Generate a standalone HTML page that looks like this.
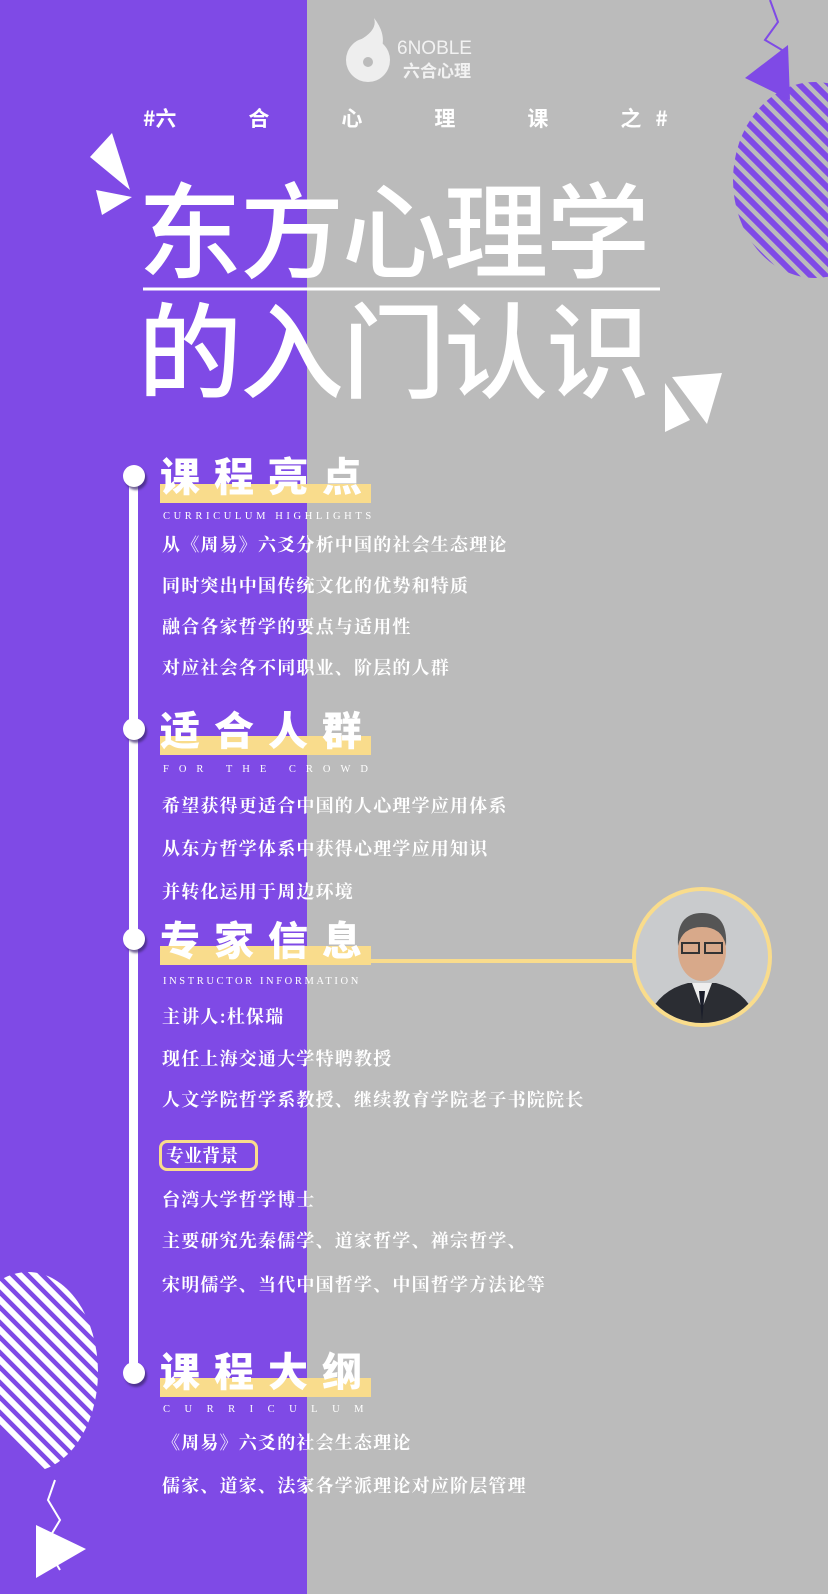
<!DOCTYPE html>
<html><head><meta charset="utf-8"><style>
*{margin:0;padding:0;box-sizing:border-box}
body{width:828px;height:1594px;position:relative;overflow:hidden;background:#bbbbbb;font-family:"Liberation Serif","Noto Serif CJK SC",serif}
.p{position:absolute}
.purple{left:0;top:0;width:307px;height:1594px;background:#7f4ae6}
.t{color:#fff;white-space:nowrap}
.item{position:absolute;left:162px;color:#fff;font-size:18px;font-weight:bold;font-family:"Noto Serif CJK SC",serif;white-space:nowrap;letter-spacing:1.2px}
.hd{position:absolute;left:160px;color:#fff;font-size:40px;font-weight:900;font-family:"Noto Sans CJK SC",sans-serif;letter-spacing:14px;line-height:44px;white-space:nowrap;z-index:2}
.bar{position:absolute;left:160px;width:211px;height:19px;background:#f9dc8c;z-index:1}
.en{position:absolute;left:163px;color:#fff;font-size:10.5px;font-family:"Liberation Serif",serif;white-space:nowrap}
.dot{position:absolute;left:123px;width:22px;height:22px;border-radius:50%;background:#fff;box-shadow:2px 3px 2px rgba(60,40,110,.7);z-index:3}
</style></head><body>
<div class="p purple"></div>
<svg class="p" style="left:0;top:0" width="828" height="1594">
<defs>
<clipPath id="c1"><ellipse cx="815" cy="180" rx="82" ry="98"/></clipPath>
<clipPath id="c2"><ellipse cx="28" cy="1372" rx="70" ry="100"/></clipPath>
</defs>
<g clip-path="url(#c1)" stroke="#7f4ae6" stroke-width="6">
<line x1="700" y1="60" x2="900" y2="260"/><line x1="700" y1="75" x2="900" y2="275"/><line x1="700" y1="90" x2="900" y2="290"/><line x1="700" y1="105" x2="900" y2="305"/><line x1="700" y1="120" x2="900" y2="320"/><line x1="700" y1="135" x2="900" y2="335"/><line x1="700" y1="150" x2="900" y2="350"/><line x1="700" y1="165" x2="900" y2="365"/><line x1="700" y1="180" x2="900" y2="380"/><line x1="700" y1="195" x2="900" y2="395"/><line x1="700" y1="210" x2="900" y2="410"/><line x1="700" y1="225" x2="900" y2="425"/><line x1="700" y1="45" x2="900" y2="245"/><line x1="700" y1="30" x2="900" y2="230"/><line x1="700" y1="15" x2="900" y2="215"/><line x1="700" y1="0" x2="900" y2="200"/><line x1="700" y1="-15" x2="900" y2="185"/><line x1="700" y1="-30" x2="900" y2="170"/><line x1="700" y1="-45" x2="900" y2="155"/><line x1="700" y1="-60" x2="900" y2="140"/>
</g>
<polyline points="770,0 778,22 765,40 782,50" fill="none" stroke="#7f4ae6" stroke-width="2"/>
<polygon points="745,78 788,45 790,100" fill="#7f4ae6"/>
<g clip-path="url(#c2)" stroke="#fff" stroke-width="6">
<line x1="-100" y1="1200" x2="150" y2="1450"/><line x1="-100" y1="1215" x2="150" y2="1465"/><line x1="-100" y1="1230" x2="150" y2="1480"/><line x1="-100" y1="1245" x2="150" y2="1495"/><line x1="-100" y1="1260" x2="150" y2="1510"/><line x1="-100" y1="1275" x2="150" y2="1525"/><line x1="-100" y1="1290" x2="150" y2="1540"/><line x1="-100" y1="1305" x2="150" y2="1555"/><line x1="-100" y1="1320" x2="150" y2="1570"/><line x1="-100" y1="1185" x2="150" y2="1435"/><line x1="-100" y1="1170" x2="150" y2="1420"/><line x1="-100" y1="1155" x2="150" y2="1405"/><line x1="-100" y1="1140" x2="150" y2="1390"/><line x1="-100" y1="1125" x2="150" y2="1375"/><line x1="-100" y1="1110" x2="150" y2="1360"/><line x1="-100" y1="1095" x2="150" y2="1345"/><line x1="-100" y1="1080" x2="150" y2="1330"/>
</g>
<polyline points="55,1480 48,1500 60,1520 45,1545 60,1570" fill="none" stroke="#fff" stroke-width="2"/>
<polygon points="36,1525 36,1578 86,1549" fill="#fff"/>
<polygon points="90,157 112,133 130,190" fill="#fff"/>
<polygon points="96,190 132,197 102,215" fill="#fff"/>
<polygon points="672,377 722,373 707,424" fill="#fff"/>
<polygon points="665,383 665,432 690,420" fill="#fff"/>
<line x1="143" y1="289" x2="660" y2="289" stroke="#fff" stroke-width="3"/>
<line x1="320" y1="961" x2="640" y2="961" stroke="#f9dc8c" stroke-width="4"/>
<circle cx="368" cy="60" r="22" fill="#eee"/><circle cx="368" cy="62" r="5" fill="#bbb"/>
<path d="M360,40 Q378,30 374,18 Q388,36 380,52 Z" fill="#eee"/>
</svg>
<div class="p t" style="left:397px;top:38px;font-size:19px;font-family:'Liberation Sans',sans-serif;color:#f2f2f2">6NOBLE</div>
<div class="p t" style="left:403px;top:57px;font-size:17px;font-weight:bold;font-family:'Noto Sans CJK SC',sans-serif;color:#f2f2f2">六合心理</div>
<div class="p t" style="left:143px;top:103px;font-size:21px;font-weight:bold;font-family:'Noto Sans CJK SC',sans-serif;letter-spacing:0">#六<span style="margin-left:72px">合</span><span style="margin-left:72px">心</span><span style="margin-left:72px">理</span><span style="margin-left:72px">课</span><span style="margin-left:72px">之</span><span style="margin-left:14px">#</span></div>
<div class="p t" style="left:138px;top:170px;font-size:104px;line-height:110px;font-family:'Noto Sans CJK SC',sans-serif;font-weight:500;letter-spacing:-2px">东方心理学</div>
<div class="p t" style="left:138px;top:290px;font-size:104px;line-height:110px;font-family:'Noto Sans CJK SC',sans-serif;font-weight:500;letter-spacing:-2px">的入门认识</div>
<div class="p" style="left:129px;top:478px;width:9px;height:895px;background:#fff"></div>
<div class="dot" style="top:465px"></div>
<div class="dot" style="top:718px"></div>
<div class="dot" style="top:928px"></div>
<div class="dot" style="top:1362px"></div>

<div class="hd" style="top:452px">课程亮点</div><div class="bar" style="top:484px"></div>
<div class="en" style="top:511px;letter-spacing:3.6px">CURRICULUM HIGHLIGHTS</div>
<div class="item" style="top:531px">从《周易》六爻分析中国的社会生态理论</div>
<div class="item" style="top:572px">同时突出中国传统文化的优势和特质</div>
<div class="item" style="top:613px">融合各家哲学的要点与适用性</div>
<div class="item" style="top:654px">对应社会各不同职业、阶层的人群</div>

<div class="hd" style="top:706px">适合人群</div><div class="bar" style="top:736px"></div>
<div class="en" style="top:764px;letter-spacing:10px">FOR THE CROWD</div>
<div class="item" style="top:792px">希望获得更适合中国的人心理学应用体系</div>
<div class="item" style="top:835px">从东方哲学体系中获得心理学应用知识</div>
<div class="item" style="top:878px">并转化运用于周边环境</div>

<div class="hd" style="top:916px">专家信息</div><div class="bar" style="top:946px"></div>
<div class="en" style="top:976px;letter-spacing:2.6px">INSTRUCTOR INFORMATION</div>
<div class="item" style="top:1003px">主讲人:杜保瑞</div>
<div class="item" style="top:1045px">现任上海交通大学特聘教授</div>
<div class="item" style="top:1086px">人文学院哲学系教授、继续教育学院老子书院院长</div>
<div class="p" style="left:159px;top:1140px;width:99px;height:31px;border:3px solid #f9dc8c;border-radius:8px"></div>
<div class="item" style="left:166px;top:1142px;font-size:18px;letter-spacing:0">专业背景</div>
<div class="item" style="top:1186px">台湾大学哲学博士</div>
<div class="item" style="top:1227px">主要研究先秦儒学、道家哲学、禅宗哲学、</div>
<div class="item" style="top:1271px">宋明儒学、当代中国哲学、中国哲学方法论等</div>

<div class="hd" style="top:1347px">课程大纲</div><div class="bar" style="top:1378px"></div>
<div class="en" style="top:1404px;letter-spacing:14.5px">CURRICULUM</div>
<div class="item" style="top:1429px">《周易》六爻的社会生态理论</div>
<div class="item" style="top:1472px">儒家、道家、法家各学派理论对应阶层管理</div>

<div class="p" style="left:632px;top:887px;width:140px;height:140px;border-radius:50%;border:4px solid #f9dc8c;background:#c9cbcd;overflow:hidden">
<svg width="132" height="132">
<path d="M10,132 Q20,100 52,92 L80,92 Q112,100 122,132 Z" fill="#2b2d33"/>
<path d="M56,92 L66,118 L76,92 Z" fill="#eee"/>
<path d="M63,100 L66,130 L69,100 Z" fill="#1a1d2a"/>
<ellipse cx="66" cy="60" rx="24" ry="30" fill="#d8a98a"/>
<path d="M42,55 Q40,22 66,22 Q92,22 90,55 Q86,36 66,36 Q46,36 42,55 Z" fill="#555"/>
<rect x="46" y="52" width="17" height="10" fill="none" stroke="#333" stroke-width="2"/>
<rect x="69" y="52" width="17" height="10" fill="none" stroke="#333" stroke-width="2"/>
</svg></div>
</body></html>
